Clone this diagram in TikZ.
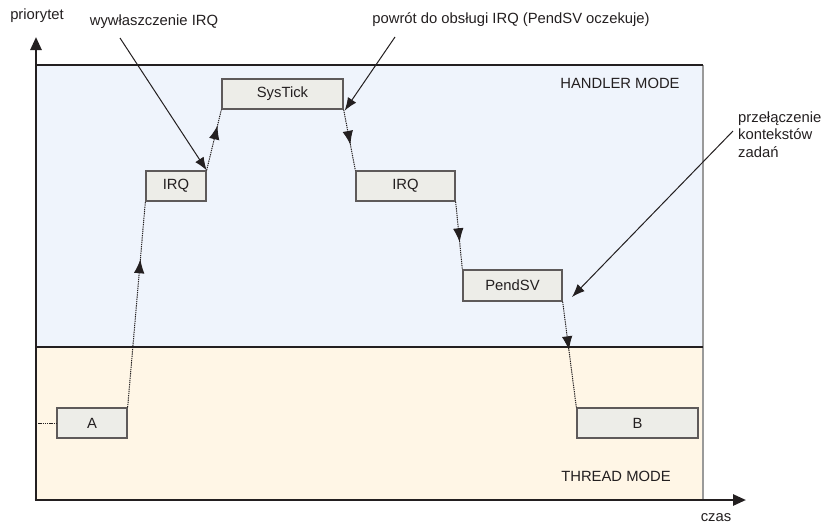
\documentclass[tikz,border=0pt]{standalone}
\usepackage{fontspec}
\setmainfont{Liberation Sans}
\usetikzlibrary{arrows.meta,decorations.markings}
\definecolor{ink}{HTML}{231F20}
\definecolor{handlerbg}{HTML}{EFF4FC}
\definecolor{threadbg}{HTML}{FFF6E6}
\definecolor{boxbg}{HTML}{EDEDE8}
\definecolor{boxline}{HTML}{5E5A5A}
\definecolor{edgegray}{HTML}{9A9A9A}
\tikzset{
  lbl/.style={font=\fontsize{14.8}{17.5}\selectfont, text=ink, inner sep=0pt},
  task/.style={draw=boxline, line width=1.3pt, fill=boxbg, inner sep=0pt,
    font=\fontsize{14.8}{17.5}\selectfont, text=ink},
  flow/.style={ink, line width=1pt, dash pattern=on 1.3pt off 0.9pt,
    postaction={decorate},
    decoration={markings, mark=at position #1 with {\arrow{Latex[length=14pt,width=10.5pt]}}}},
  note/.style={ink, line width=1pt, -{Latex[length=13pt,width=10pt]}},
  axis/.style={ink, line width=2.6pt, -{Triangle[length=13pt,width=11pt]}}
}
\begin{document}
\begin{tikzpicture}[x=1pt,y=-1pt]
\useasboundingbox (0,0) rectangle (824,525);

% mode areas
\fill[handlerbg] (36,65) rectangle (703,347);
\fill[threadbg] (36,347) rectangle (703,500);
\draw[edgegray, line width=1.8pt] (703,65) -- (703,500);
\draw[ink, line width=1.4pt] (36,65) -- (703,65);
\draw[ink, line width=1.4pt] (36,347) -- (703,347);

\node[lbl] (handler) at (620,83) {HANDLER MODE};
\node[lbl] (thread) at (616,476) {THREAD MODE};

% axes
\coordinate (origin) at (36,500);
\coordinate (ytip) at (36,37);
\coordinate (xtip) at (746,500);
\draw[axis] (origin) -- (ytip);
\draw[axis] ([xshift=-1.3pt]origin) -- (xtip);
\node[lbl] (prio) at (37,16) {priorytet};
\node[lbl] (czas) at (716,518) {czas};

% tasks and handlers
\node[task, minimum width=70pt, minimum height=30pt] (A) at (92,423) {A};
\node[task, minimum width=60pt, minimum height=30pt] (irqa) at (176,186) {IRQ};
\node[task, minimum width=121pt, minimum height=30pt] (systick) at (282.5,94) {SysTick};
\node[task, minimum width=99pt, minimum height=30pt] (irqb) at (405.5,186) {IRQ};
\node[task, minimum width=99pt, minimum height=31pt] (pendsv) at (512.5,285.5) {PendSV};
\node[task, minimum width=121pt, minimum height=30pt] (B) at (637.5,423) {B};

% execution flow
\coordinate (start) at (36,423);
\draw[ink, line width=1pt, dash pattern=on 1.3pt off 0.9pt] (start) -- (A.west);
\draw[flow=0.72] (A.north east) -- (irqa.south west);
\draw[flow=0.74] (irqa.north east) -- (systick.south west);
\draw[flow=0.58] (systick.south east) -- (irqb.north west);
\draw[flow=0.6] (irqb.south east) -- (pendsv.north west);
\draw[flow=0.46] (pendsv.south east) -- (B.north west);

% annotations
\node[lbl] (preempt) at (154,22) {wywłaszczenie IRQ};
\node[lbl] (ret) at (511,20) {powrót do obsługi IRQ (PendSV oczekuje)};
\node[lbl, anchor=base west] (ctx1) at (738,122) {przełączenie};
\node[lbl, anchor=base west] (ctx2) at (738,139.5) {kontekstów};
\node[lbl, anchor=base west] (ctx3) at (738,157) {zadań};
\coordinate (preemptfoot) at (120,38);
\coordinate (retfoot) at (395,37);
\coordinate (ctxfoot) at (733,131);
\coordinate (ctxtip) at (572,297);
\draw[note] (preemptfoot) -- (irqa.north east);
\draw[note] (retfoot) -- ([xshift=1pt,yshift=-1pt]systick.south east);
\draw[note] (ctxfoot) -- (ctxtip);
\end{tikzpicture}
\end{document}
